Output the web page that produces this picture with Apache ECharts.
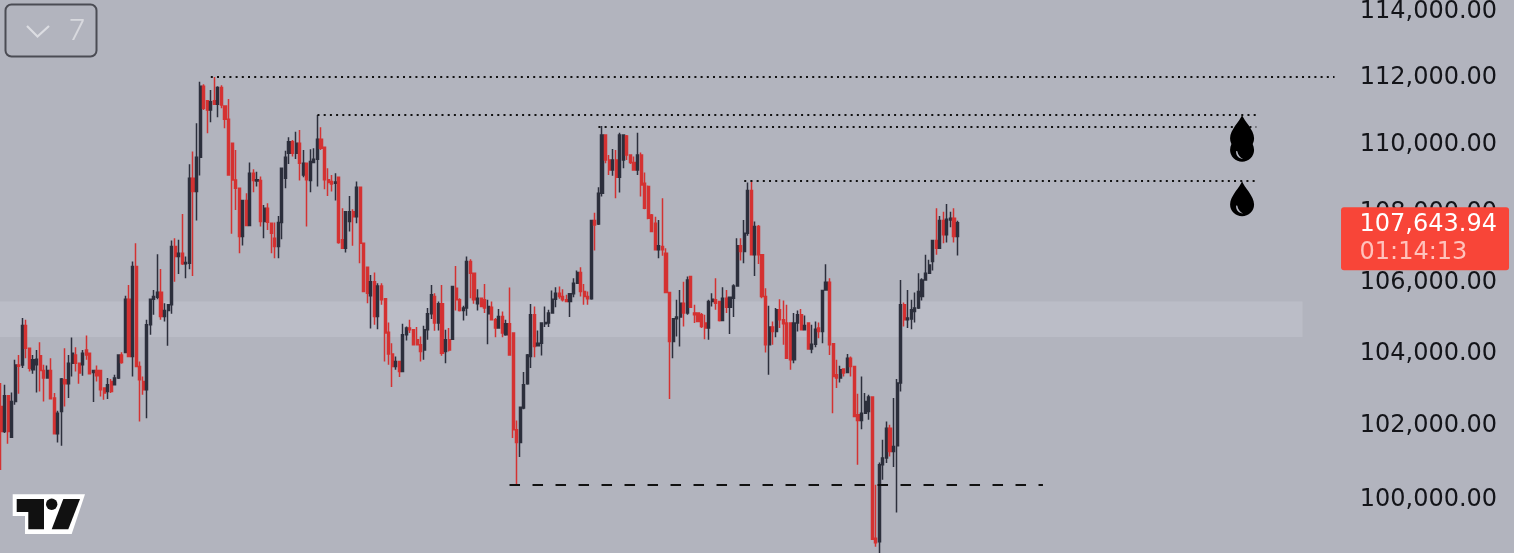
<!DOCTYPE html>
<html>
<head>
<meta charset="utf-8">
<style>html,body{margin:0;padding:0;background:#b2b4be;overflow:hidden}#c{width:1514px;height:553px}</style>
<script src="https://cdn.jsdelivr.net/npm/echarts@6/dist/echarts.min.js"></script>
</head>
<body>
<div id="c"></div>
<script>
const opens=[
102460,101774,102755,101620,102600,103610,103610,104714,104075,103474,
103613,103862,103456,103244,103456,102691,101710,102322,103198,103087,
103659,103889,103659,103613,104028,103935,103401,103456,103456,102967,
102875,103152,103060,103244,103889,103954,105455,103843,106383,103567,
103152,102922,104732,105455,105512,105653,104967,105136,105296,106957,
106670,106766,106460,106479,108937,108547,109551,111663,111228,110950,
111228,111119,111624,111069,110673,109961,108887,108644,107244,108283,
107560,109083,108858,108868,107675,108058,107627,107196,106957,107646,
108937,109668,110010,109668,109961,109034,109376,108868,109395,109492,
110079,109844,108888,108839,108790,108966,107148,106909,107675,107962,
107818,108673,107053,106364,105549,105953,104967,105831,105465,104526,
103917,103567,103705,103428,104451,104639,104592,104310,104169,104028,
104592,105042,105531,104779,105324,103982,104310,104329,105765,105437,
105136,105202,106526,106191,105324,105484,105437,105042,105230,104873,
104639,104967,104451,104761,104498,101819,101475,102415,103087,103843,
105014,104141,104216,104761,104779,105061,105455,105624,105531,105437,
105390,105606,105906,106211,105671,105531,105465,107703,107608,108498,
110208,109473,109180,109473,108965,109473,110178,109619,109395,109180,
109619,108790,108692,107866,107627,106861,106957,106765,105643,104263,
104901,104948,105343,105061,106096,105061,105061,105014,104779,104639,
105390,105437,105390,104854,105484,105230,105484,105831,106976,106813,
107340,108576,106718,107531,106718,105530,104169,104667,104545,105155,
104873,104779,104779,103751,104779,105014,104592,104779,104056,104188,
104639,104545,105718,105934,104197,103336,103244,103493,103401,103797,
103567,102230,102073,102276,102322,102718,98896,98807,100869,101050,
101864,101231,101385,103106,105296,104873,104892,105108,105202,105530,
106000,106191,106526,107129,106910,107703,107292,107722,107770,107244];
const closes=[
101774,102755,101774,102599,103610,103570,104714,104075,103520,103751,
103770,103456,103244,103456,102672,101710,102276,103216,103087,103659,
103935,103659,103382,103935,103889,103364,103456,103309,102921,102829,
103060,102875,103244,103889,103677,105455,103843,106383,103567,103198,
102922,104732,105455,105530,105653,104967,105136,105296,106957,106670,
106766,106460,106498,108937,108547,109551,111663,111000,110950,111198,
111119,111624,111099,110673,109034,108887,108644,107244,108283,107560,
109083,108868,108888,107675,108058,107655,107340,106957,107646,109229,
109551,110010,109668,109961,109376,109376,108888,109424,109492,110079,
109815,108888,108810,108770,108829,107072,106909,107962,107962,107818,
108673,107053,105671,105624,105953,104967,105831,105437,104498,103917,
103567,103705,103428,104451,104639,104592,104169,104169,103982,104592,
105042,105577,104779,105324,103935,104310,104028,105812,105437,105136,
105202,106526,106191,105437,105484,105249,105202,105249,104873,104639,
104967,104498,104761,103889,101819,101475,102442,103060,103889,105014,
104122,104216,104779,104798,105061,105455,105624,105531,105437,105390,
105606,105906,106211,105671,105531,105465,107703,107579,108498,110208,
109473,109180,109473,108965,110208,110208,109619,109395,109180,109619,
108741,108058,107770,107387,106861,106976,106861,105643,104263,104901,
104948,105343,105061,106000,105230,105014,104826,104685,104639,105390,
105455,105343,104854,105484,105230,105512,105831,106976,106813,107340,
108576,106718,107531,106718,105530,104169,104667,104545,105155,104873,
104760,103797,103751,104779,105014,104592,104714,104056,104188,104610,
104545,105700,105934,104169,103290,103244,103474,103382,103797,103567,
102184,102073,102276,102599,102718,98870,98781,100869,101050,101864,
101231,101367,103106,105296,104873,104920,105155,105202,105671,106000,
106191,106430,107129,106910,107703,107292,107742,107770,107244,107643.94];
const highs=[
103110,103060,102755,102848,103751,103889,104920,104873,104075,103889,
104028,104244,103613,103594,103797,102829,102340,103244,104075,103889,
104376,104103,103659,104028,104432,103935,103456,103594,103456,102967,
103244,103216,103336,103889,103963,105549,105859,106526,107053,103705,
103290,104873,105455,105718,106737,106316,105343,105296,107129,107196,
107148,107895,106670,109346,109717,110554,111792,111723,111228,111545,
111941,111663,111693,111069,111277,109961,109766,108644,108283,108498,
109395,109200,109122,108985,108156,108205,107627,107646,107837,109229,
109746,110139,110059,110307,110356,109766,109376,109785,109815,110802,
110436,109844,109229,109034,109083,108985,108059,107962,108420,108029,
108839,108673,107053,106364,106144,106211,105906,105906,105465,104798,
104216,103843,103723,104761,104686,104873,104592,104667,104404,104704,
105202,105859,105624,105390,105859,104592,104639,105831,106402,105484,
105268,106669,106593,106191,105737,105484,105887,105437,105390,104920,
105174,105108,104873,105784,104498,102074,102460,103410,103917,105315,
105249,104573,104798,105249,105155,105700,105793,105812,105737,105577,
105624,106048,106268,106364,105887,105671,107722,107933,108673,110475,
110208,109620,109795,109766,110277,110228,110208,109619,109570,110277,
109688,109102,108722,107895,107818,107722,108351,106909,105643,104920,
105437,105718,105953,106096,106115,105296,105061,105061,105014,105437,
105624,106048,105390,105793,105718,105531,105878,107196,107196,107722,
108810,108869,107675,107579,106718,105765,105268,104826,105202,105455,
105418,105296,104779,105061,105136,105174,104995,104798,104733,104826,
104798,105718,106450,106048,104216,103751,103585,103520,103917,103843,
103585,102811,103290,102829,102783,102737,100326,100932,101548,102046,
101955,102691,103216,106000,105361,105718,105437,105643,106191,106048,
106718,106574,107148,108058,107837,107962,108185,107962,108058,107700];
const lows=[
100730,101730,101440,101593,102506,102811,103521,103797,103428,103364,
102848,102875,102599,103240,102670,101710,101475,101385,102460,102691,
103290,103428,103087,103309,103751,103364,102580,103152,102737,102645,
102663,102829,103060,103216,103640,103935,103843,103290,103567,102046,
102783,102138,104451,105014,105455,104873,104826,104141,105042,105953,
106172,106430,106048,106306,106115,107703,109014,110950,110257,110584,
111100,110733,111000,110406,109034,107321,108010,106766,106986,107560,
107560,108527,108693,107531,107196,107435,106766,106622,106622,107167,
108644,109356,109571,109503,108868,108966,107531,108527,109395,108693,
109766,108614,108420,108547,108283,107034,106909,106785,107387,106976,
107627,106478,105671,105343,104629,104732,104610,105296,103705,103613,
102995,103474,103272,103428,104291,104498,104169,104169,103705,103751,
104310,104892,104563,104573,103862,103659,103982,104329,105136,105108,
104854,104986,105484,105324,105136,105249,105061,104188,104873,104385,
104639,104385,104423,103889,101593,100326,101077,102387,103060,103521,
103825,104122,103871,104667,104667,105249,105230,105465,105390,105371,
104948,105512,105906,105531,105296,105296,105437,106842,107579,108400,
109375,109034,109005,108351,108517,109229,109473,109356,109180,109034,
108400,108029,107742,107387,106861,106622,106689,105643,102663,103797,
104404,104122,104685,105014,105202,104779,104826,104639,104329,104310,
105249,105155,104826,104854,105061,104470,104948,105831,106555,106478,
107263,106718,106115,106459,105484,103954,103336,104169,104385,104639,
104169,103797,103474,103659,104545,104592,104592,104047,103935,104103,
104357,104216,105718,103885,102276,102967,103124,103290,103382,103290,
102184,100869,101837,102258,102092,98870,98674,98480,100462,100914,
101095,100805,99582,102875,104685,104639,104610,104798,105174,105418,
105981,106180,106268,106718,106910,107053,107072,107512,107072,106699];
const tickValues=[100000,102000,104000,106000,108000,110000,112000,114000];
const slotCount=426;
const dottedLevels=[[59,375,111940],[89,352.5,110800],[168,352.5,110455],[209,352.5,108850]];
const dashedLevel=[143,293,100326];
const dropSlots=[348.9,348.9,348.9];
const dropPrices=[110800,110455,108850];
const zoneRange=[105390,104390];
const zoneEndSlot=366;
const lastPrice=107643.94;
const countdown='01:14:13';
const lastPriceSlot=400;

const categories=Array.from({length:slotCount},(_,i)=>String(i));
const candles=opens.map((o,i)=>[o,closes[i],lows[i],highs[i]]);
const fmt=v=>v.toLocaleString('en-US',{minimumFractionDigits:2,maximumFractionDigits:2});
const FONT='"DejaVu Sans", sans-serif';
const dropPath='path://M12 0C14 6 24 15 24 24A12 12 0 0 1 0 24C0 15 10 6 12 0ZM6 25.5C5.8 30 9 33 13 33.2C10 31.8 8 29 7.3 25.5C7 25 6.3 25 6 25.5Z';
const boxPath='path://M3 0H165A3 3 0 0 1 168 3V60A3 3 0 0 1 165 63H3A3 3 0 0 1 0 60V3A3 3 0 0 1 3 0Z';

const chart=echarts.init(document.getElementById('c'),null,{renderer:'canvas',width:1514,height:553});
chart.setOption({
  animation:false,
  backgroundColor:'#b2b4be',
  grid:{left:-0.78,top:0,width:1514.9,height:553,containLabel:false,outerBoundsMode:'none'},
  xAxis:{type:'category',data:categories,show:false,boundaryGap:true},
  yAxis:{type:'log',logBase:10,min:98507,max:114276,position:'right',
    axisLine:{show:false},axisTick:{show:false},splitLine:{show:false},minorSplitLine:{show:false},
    axisLabel:{show:true,inside:true,margin:17,customValues:tickValues,color:'#131419',fontSize:24,fontFamily:FONT,
      formatter:v=>'{v|'+fmt(Number(v))+'}',
      rich:{v:{color:'#131419',fontSize:24,fontFamily:FONT,padding:[5,0,0,0]}}}},
  series:[
    {type:'candlestick',data:candles,barWidth:2.6,z:3,
      itemStyle:{color:'#2c2f3c',color0:'#d43232',borderColor:'#2c2f3c',borderColor0:'#d43232',borderWidth:1.5},
      markArea:{silent:true,z:1,itemStyle:{color:'#bbbdc7',opacity:1},
        data:[[{x:0,yAxis:zoneRange[0]},{xAxis:zoneEndSlot,yAxis:zoneRange[1]}]]},
      markLine:{silent:true,symbol:'none',z:4,label:{show:false},
        data:dottedLevels.map(l=>[
          {coord:[l[0],l[2]],lineStyle:{type:[2,4.2],color:'#111',width:2}},
          {coord:[l[1],l[2]]}
        ]).concat([[
          {coord:[dashedLevel[0],dashedLevel[2]],lineStyle:{type:[10.5,12.5],color:'#111',width:2}},
          {coord:[dashedLevel[1],dashedLevel[2]]}
        ]])}
    },
    {type:'scatter',z:5,silent:true,symbol:dropPath,symbolSize:[24,35],symbolOffset:[0,'50%'],
      itemStyle:{color:'#000',opacity:1},
      data:dropSlots.map((s,i)=>[s,dropPrices[i]])},
    {type:'scatter',z:8,silent:true,symbol:boxPath,symbolSize:[168,63],symbolOffset:[1.6,16],
      itemStyle:{color:'#f84538',opacity:1},
      label:{show:true,position:'inside',offset:[3,0],formatter:()=>'{a|'+fmt(lastPrice)+'}\n{b|'+countdown+'}',
        rich:{a:{color:'#fff',fontSize:24,fontFamily:FONT,lineHeight:28,width:137,align:'left'},
              b:{color:'#ffc2bc',fontSize:24,fontFamily:FONT,lineHeight:28,width:137,align:'left'}}},
      data:[[lastPriceSlot,lastPrice]]}
  ],
  graphic:[
    {type:'rect',z:20,shape:{x:5.5,y:4.5,width:91,height:52,r:6},style:{fill:'none',stroke:'#4b4c54',lineWidth:2}},
    {type:'polyline',z:20,shape:{points:[[27,26],[37.5,36.5],[49,26]]},style:{fill:'none',stroke:'#dcdde2',lineWidth:2.2}},
    {type:'text',z:20,style:{x:69,y:17,text:'7',fill:'#d8d9de',fontSize:29,fontWeight:300,fontFamily:'Inter'}},
    {type:'polygon',z:20,shape:{points:[[12.7,494.3],[85,494.3],[71.7,534],[25,534],[25,516],[12.7,516]]},style:{fill:'#fff'}},
    {type:'polygon',z:21,shape:{points:[[16.7,499],[44,499],[44,529.3],[28.3,529.3],[28.3,512],[16.7,512]]},style:{fill:'#111'}},
    {type:'circle',z:21,shape:{cx:51.7,cy:504.3,r:5.7},style:{fill:'#111'}},
    {type:'polygon',z:21,shape:{points:[[63.3,499],[80,499],[68.3,529.3],[51.7,529.3]]},style:{fill:'#111'}}
  ]
});
</script>
</body>
</html>
